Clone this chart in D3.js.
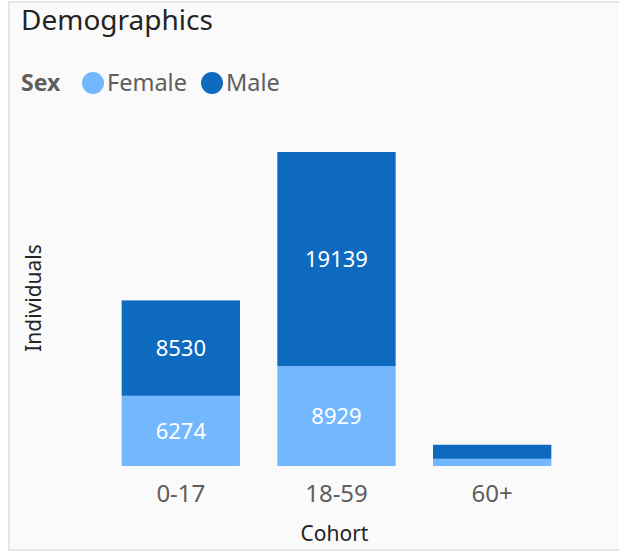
<html>
  <meta charset="utf-8">
  <head>
  <style>
    body {
      margin: 0;
      background: #fff;
    }
    svg text {
      font-family: "Noto Sans", "Open Sans", sans-serif;
    }
  </style>
  </head>
  <body>
    <div id="elm"></div>
    <script src="https://d3js.org/d3.v7.min.js"></script>
    <script>
    'use strict';

    var cohorts = ['0-17', '18-59', '60+'];
    var sexes = ['Female', 'Male'];
    var female = [6274, 8929, 640];
    var male = [8530, 19139, 1260];
    var colors = ['#73b8ff', '#0e6abf'];

    var W = 619, H = 556;

    var svg = d3.select('#elm').append('svg')
      .attr('width', W)
      .attr('height', H);

    // card
    svg.append('rect')
      .attr('x', 9).attr('y', 2)
      .attr('width', W).attr('height', 548)
      .attr('fill', '#fafafa')
      .attr('stroke', '#e6e6e6')
      .attr('stroke-width', 2);

    svg.append('text')
      .attr('x', 21).attr('y', 30)
      .attr('font-size', 28)
      .attr('fill', '#252423')
      .text('Demographics');

    // legend
    var leg = svg.append('g').attr('transform', 'translate(21,83)');
    leg.append('text')
      .attr('font-size', 23)
      .attr('font-weight', 'bold')
      .attr('fill', '#605e5c')
      .attr('dy', '0.35em')
      .text('Sex');
    var legX = [72, 191];
    sexes.forEach(function (s, i) {
      var g = leg.append('g').attr('transform', 'translate(' + legX[i] + ',0)');
      g.append('circle').attr('cx', 0).attr('cy', 0).attr('r', 11).attr('fill', colors[i]);
      g.append('text')
        .attr('x', 14)
        .attr('dy', '0.35em')
        .attr('font-size', 23.5)
        .attr('fill', '#605e5c')
        .text(s);
    });

    var data = cohorts.map(function (c, i) {
      return { cohort: c, Female: female[i], Male: male[i] };
    });
    var series = d3.stack().keys(sexes)(data);

    var x = d3.scaleBand()
      .domain(cohorts)
      .range([103, 570])
      .paddingInner(0.24)
      .paddingOuter(0.12);

    var y = d3.scaleLinear()
      .domain([0, 30000])
      .range([466, 466 - 30000 * (314 / 28068)]);

    var layers = svg.append('g').selectAll('g')
      .data(series)
      .join('g')
      .attr('fill', function (d, i) { return colors[i]; });

    layers.selectAll('rect')
      .data(function (d) { return d; })
      .join('rect')
      .attr('x', function (d) { return x(d.data.cohort); })
      .attr('width', x.bandwidth())
      .attr('y', function (d) { return y(d[1]); })
      .attr('height', function (d) { return y(d[0]) - y(d[1]); });

    // value labels, only where the segment is tall enough
    layers.selectAll('text')
      .data(function (d) { return d; })
      .join('text')
      .filter(function (d) { return y(d[0]) - y(d[1]) > 30; })
      .attr('x', function (d) { return x(d.data.cohort) + x.bandwidth() / 2; })
      .attr('y', function (d) { return (y(d[0]) + y(d[1])) / 2; })
      .attr('dy', '0.38em')
      .attr('text-anchor', 'middle')
      .attr('font-size', 22)
      .attr('fill', '#fff')
      .text(function (d) { return d[1] - d[0]; });

    var xAxis = svg.append('g')
      .attr('transform', 'translate(0,466)')
      .call(d3.axisBottom(x).tickSize(0).tickPadding(19));
    xAxis.select('.domain').remove();
    xAxis.selectAll('text')
      .attr('font-size', 24)
      .attr('fill', '#605e5c')
      .style('font-family', '"Noto Sans", sans-serif');

    svg.append('text')
      .attr('x', x.range()[0] + (x.range()[1] - x.range()[0]) / 2 - 2)
      .attr('y', 534)
      .attr('dy', '0.35em')
      .attr('text-anchor', 'middle')
      .attr('font-size', 21)
      .attr('fill', '#252423')
      .text('Cohort');

    svg.append('text')
      .attr('transform', 'translate(34,298) rotate(-90)')
      .attr('dy', '0.35em')
      .attr('text-anchor', 'middle')
      .attr('font-size', 21)
      .attr('fill', '#252423')
      .text('Individuals');
    </script>
  </body>
</html>
